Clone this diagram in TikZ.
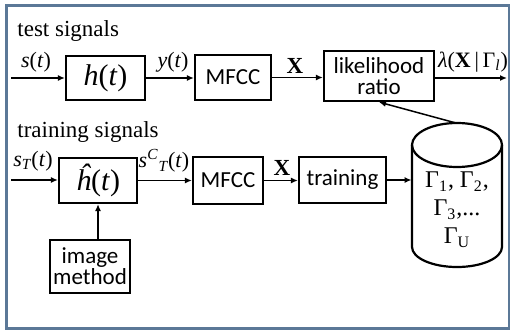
\documentclass[tikz,border=0pt]{standalone}
\usepackage{fontspec}
\setmainfont{Liberation Serif}
\newfontfamily\boxfont{Carlito}
\usetikzlibrary{arrows.meta,shadows,calc}
\definecolor{framec}{HTML}{5B7897}
\tikzset{
  blk/.style={draw=black, line width=1.1pt, fill=white, font=\boxfont\fontsize{11.5}{12.5}\selectfont,
    inner sep=0pt, align=center, drop shadow={shadow xshift=0.7pt, shadow yshift=-0.7pt, fill=black!35}},
  arr/.style={-{Latex[length=3.5pt,width=3pt]}, line width=0.75pt},
  lbl/.style={font=\fontsize{11}{12}\selectfont, inner sep=0pt},
  ttl/.style={font=\fontsize{11.5}{13}\selectfont, inner sep=0pt, anchor=west},
}
\begin{document}
\begin{tikzpicture}[x=0.5pt,y=-0.5pt]
\useasboundingbox (0,0) rectangle (512,332);
\draw[framec, line width=1.1pt] (6.5,5.5) rectangle (509,328.5);
% top row
\node[ttl] (t1) at (17,31) {test signals};
\node[blk, minimum width=39.5pt, minimum height=22pt, font=\fontsize{15}{16}\selectfont] (h) at (105.5,78) {\textit{h}(\textit{t})};
\node[blk, minimum width=38pt, minimum height=22.5pt] (m1) at (233,77.5) {MFCC};
\node[blk, minimum width=55pt, minimum height=25pt] (lr) at (379,76) {likelihood\\[-2pt]ratio};
\coordinate (sin) at (11,78);
\coordinate (lout) at (507,78);
\draw[arr] (sin) -- (h.west |- sin);
\draw[arr] (h.east) -- (m1.west |- h.east);
\draw[arr] (m1.east) -- (lr.west |- m1.east);
\draw[arr] (lr.east |- lout) -- (lout);
\node[lbl] (ls) at (36,62) {\textit{s}(\textit{t})};
\node[lbl] (ly) at (173,62) {\textit{y}(\textit{t})};
\node[lbl, font=\fontsize{11.5}{12}\selectfont\bfseries] (lx1) at (295,66) {X};
\node[lbl] (llam) at (473,62) {\textit{λ}(\textbf{X}\,|\,Γ\textsubscript{\textit{l}})};
% bottom row
\node[ttl] (t2) at (17,132) {training signals};
\node[blk, minimum width=39pt, minimum height=22.5pt, font=\fontsize{15}{16}\selectfont] (hh) at (98,180.5) {\textit{ĥ}(\textit{t})};
\node[blk, minimum width=35pt, minimum height=23.5pt] (m2) at (228,180.5) {MFCC};
\node[blk, minimum width=43.5pt, minimum height=23pt] (tr) at (342.5,180) {training};
\node[blk, minimum width=40pt, minimum height=26.5pt] (im) at (90,266.5) {image\\[-2pt]method};
\coordinate (sin2) at (11,180);
\draw[arr] (sin2) -- (hh.west |- sin2);
\draw[arr] (hh.east) -- (m2.west |- hh.east);
\draw[arr] (m2.east) -- (tr.west |- m2.east);
\draw[arr] (im.north -| hh.south) -- (hh.south);
\node[lbl] (lst) at (33,161) {\textit{s\textsubscript{T}}(\textit{t})};
\node[lbl] (lsc) at (164,161) {\textit{s\textsuperscript{C}\textsubscript{T}}(\textit{t})};
\node[lbl, font=\fontsize{11.5}{12}\selectfont\bfseries] (lx2) at (282,168) {X};
% database cylinder
\node[minimum width=45pt, minimum height=51pt, inner sep=0pt] (db) at (457,196) {};
\draw[line width=1.1pt, fill=white] (412,145) -- (412,247) arc[start angle=180, end angle=0, x radius=45, y radius=20] -- (502,145);
\draw[line width=1.1pt] (457,145) ellipse [x radius=45, y radius=22];
\node[lbl, align=center, font=\fontsize{12}{14}\selectfont] (dbt) at (457,210) {Γ\textsubscript{1}, Γ\textsubscript{2},\\Γ\textsubscript{3},...\\Γ\textsubscript{U}};
\coordinate (dbtop) at (456,123);
\draw[arr] (tr.east) -- (tr.east -| db.west);
\draw[arr] (dbtop) -- (lr.south);
\end{tikzpicture}
\end{document}
